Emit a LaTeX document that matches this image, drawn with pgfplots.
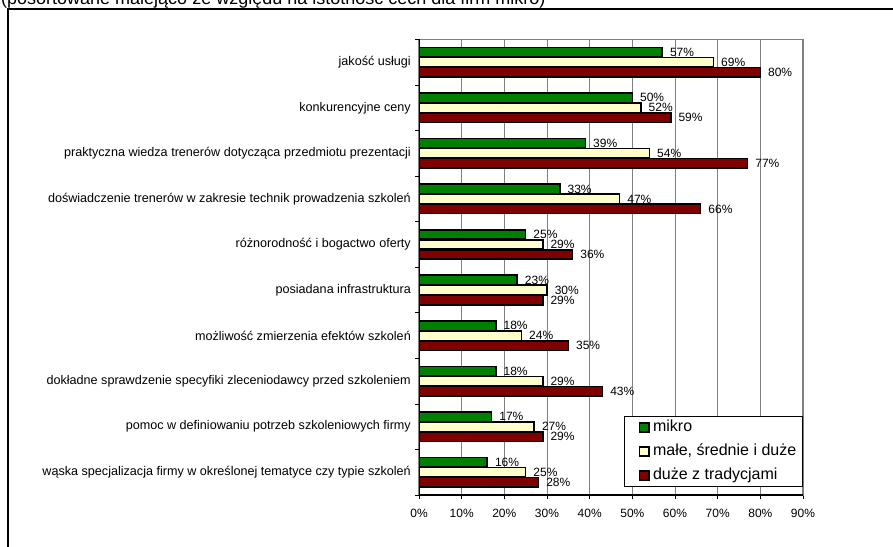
\documentclass[border=0pt]{standalone}
\usepackage{fontspec}
\setmainfont{Liberation Sans}
\usepackage{pgfplots}
\pgfplotsset{compat=1.18}
\definecolor{cgreen}{HTML}{008000}
\definecolor{ccream}{HTML}{FFFFCC}
\definecolor{cred}{HTML}{800000}
\definecolor{cgrid}{HTML}{808080}
\begin{document}
\begin{tikzpicture}[x=1pt,y=1pt]
\node[anchor=base west, inner sep=0pt, font=\fontsize{18}{22}\selectfont] at (1,541) {(posortowane malejąco ze względu na istotność cech dla firm mikro)};
\draw[line width=2pt] (8,-5) -- (8,537) -- (900,537);
\begin{axis}[
  at={(419pt,51pt)}, anchor=south west,
  scale only axis, width=384pt, height=455.5pt,
  xbar, bar width=9.5pt,
  xmin=0, xmax=90, ymin=-0.5, ymax=9.5, y dir=reverse,
  /pgf/number format/assume math mode=true,
  font=\fontsize{12}{14}\selectfont,
  xtick={0,10,...,90},
  xticklabels={0\%,10\%,20\%,30\%,40\%,50\%,60\%,70\%,80\%,90\%},
  xtick pos=bottom, tick align=outside, major tick length=4pt,
  xtick style={black, line width=0.8pt},
  xticklabel style={inner sep=0pt, anchor=north, yshift=-10pt},
  ytick={0,...,9},
  yticklabels={jakość usługi, konkurencyjne ceny, praktyczna wiedza trenerów dotycząca przedmiotu prezentacji, doświadczenie trenerów w zakresie technik prowadzenia szkoleń, różnorodność i bogactwo oferty, posiadana infrastruktura, możliwość zmierzenia efektów szkoleń, dokładne sprawdzenie specyfiki zleceniodawcy przed szkoleniem, pomoc w definiowaniu potrzeb szkoleniowych firmy, wąska specjalizacja firmy w określonej tematyce czy typie szkoleń},
  ytick pos=left, ytick style={draw=none},
  yticklabel style={inner sep=0pt, anchor=east, xshift=-4pt, font=\fontsize{12.6}{14}\selectfont},
  extra y ticks={-0.5,0.5,...,9.5},
  extra y tick labels={},
  extra y tick style={grid=none, major tick length=4pt, tick align=outside, ytick style={draw=black, line width=0.8pt}},
  xmajorgrids, grid style={cgrid, line width=1pt},
  axis line style={cgrid, line width=1.5pt},
  nodes near coords={\pgfmathprintnumber{\pgfplotspointmeta}\%},
  nodes near coords align=horizontal,
  every node near coord/.append style={font=\fontsize{12}{14}\selectfont, inner sep=0pt, anchor=west, xshift=7pt},
  legend style={at={(0.534,0.0176)}, anchor=south west, draw=black, line width=1pt, fill=white,
    font=\fontsize{16}{18}\selectfont, inner xsep=5pt, inner ysep=2.5pt, row sep=7pt,
    nodes={inner ysep=1pt, inner xsep=1.5pt, text height=11.5pt, text depth=3.5pt}},
  legend cell align=left,
  legend image code/.code={\path[draw=none, fill=none] (0pt,-4.5pt) rectangle (22pt,4.5pt);
    \draw[#1, line width=1.5pt] (10pt,-4.5pt) rectangle (19.5pt,4.5pt);},
]
\addplot[fill=cgreen, draw=black, line width=1.6pt, bar shift=10pt] coordinates {
  (57,0) (50,1) (39,2) (33,3) (25,4) (23,5) (18,6) (18,7) (17,8) (16,9)};
\addplot[fill=ccream, draw=black, line width=1.6pt, bar shift=0pt] coordinates {
  (69,0) (52,1) (54,2) (47,3) (29,4) (30,5) (24,6) (29,7) (27,8) (25,9)};
\addplot[fill=cred, draw=black, line width=1.6pt, bar shift=-10pt] coordinates {
  (80,0) (59,1) (77,2) (66,3) (36,4) (29,5) (35,6) (43,7) (29,8) (28,9)};
\legend{mikro, {małe, średnie i duże}, duże z tradycjami}
\draw[black, line width=1.5pt] (axis cs:0,-0.5) -- (axis cs:0,9.5);
\draw[black, line width=1.2pt] (axis cs:0,9.5) -- (axis cs:90,9.5);
\end{axis}
\pgfresetboundingbox
\useasboundingbox (0,0) rectangle (893,546);
\end{tikzpicture}
\end{document}
